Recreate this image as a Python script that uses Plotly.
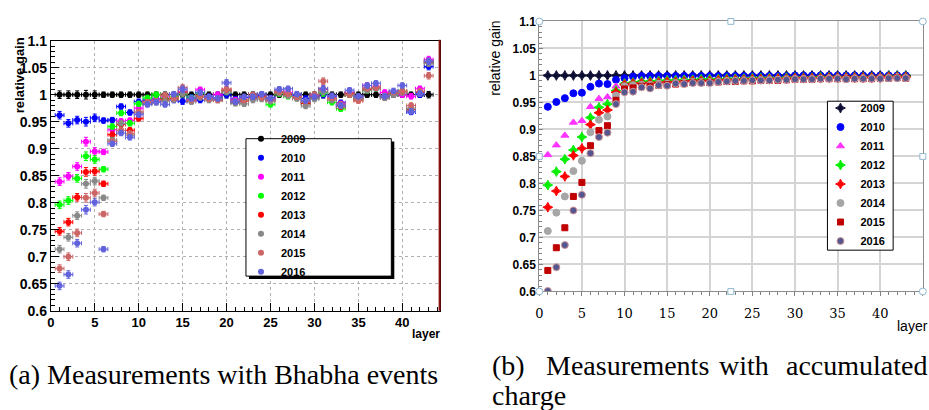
import plotly.graph_objects as go

# ---------------- data ----------------
years = ["2009", "2010", "2011", "2012", "2013", "2014", "2015", "2016"]
layers = list(range(1, 44))

# relative gain from Bhabha events (per layer 1..43)
bhabha_2009 = [1.000, 1.000, 1.000, 1.000, 1.000, 1.000, 1.000, 1.000, 1.000, 1.000,
               1.000, 1.000, 1.000, 1.000, 1.000, 1.000, 1.000, 1.000, 1.000, 1.000,
               1.000, 1.000, 1.000, 1.000, 1.000, 1.000, 1.000, 1.000, 1.000, 1.000,
               1.000, 1.000, 1.000, 1.000, 1.000, 1.000, 1.000, 1.000, 1.000, 1.000,
               1.000, 1.000, 1.000]
bhabha_2010 = [0.962, 0.947, 0.953, 0.950, 0.957, 0.952, 0.953, 0.978, 0.967, 0.987,
               0.990, 0.992, 0.993, 0.990, 0.988, 0.995, 0.990, 0.996, 0.994, 1.000,
               0.992, 0.995, 0.996, 0.998, 0.994, 1.004, 1.000, 0.998, 0.993, 0.998,
               1.000, 0.996, 0.985, 1.002, 0.995, 1.010, 1.012, 0.998, 1.002, 1.004,
               0.968, 1.000, 1.052]
bhabha_2011 = [0.839, 0.849, 0.867, 0.913, 0.895, 0.894, 0.935, 0.951, 0.952, 0.975,
               0.985, 0.990, 0.996, 0.992, 1.005, 0.990, 1.009, 0.995, 1.000, 1.008,
               0.990, 0.992, 0.998, 0.996, 0.990, 1.006, 1.004, 0.996, 0.986, 0.998,
               1.004, 0.995, 0.983, 1.002, 0.994, 1.017, 1.014, 1.004, 1.002, 1.000,
               0.997, 1.011, 1.065]
bhabha_2012 = [0.796, 0.804, 0.845, 0.886, 0.880, 0.862, 0.941, 0.966, 0.947, 0.983,
               0.994, 1.000, 0.992, 0.996, 1.002, 0.994, 1.002, 0.993, 0.992, 1.006,
               0.986, 0.990, 0.994, 0.995, 0.982, 1.002, 0.997, 0.994, 0.985, 0.994,
               1.003, 0.986, 0.974, 1.000, 0.992, 1.008, 1.012, 0.996, 1.002, 1.006,
               0.972, 1.004, 1.060]
bhabha_2013 = [0.747, 0.764, 0.810, 0.857, 0.858, 0.835, 0.926, 0.945, 0.934, 0.956,
               0.985, 0.987, 0.990, 0.993, 1.004, 0.990, 0.996, 0.992, 0.991, 1.008,
               0.986, 0.988, 0.994, 0.996, 0.990, 1.004, 1.000, 0.994, 0.984, 0.995,
               1.010, 0.992, 0.978, 1.002, 0.990, 1.010, 1.013, 0.995, 1.003, 1.006,
               0.972, 1.004, 1.060]
bhabha_2014 = [0.714, 0.736, 0.776, 0.835, 0.840, 0.809, 0.916, 0.947, 0.925, 0.966,
               0.984, 0.986, 0.988, 0.991, 1.002, 0.987, 0.995, 0.990, 0.990, 1.006,
               0.984, 0.983, 0.990, 0.992, 0.988, 1.003, 0.998, 0.993, 0.979, 0.992,
               1.006, 0.990, 0.979, 1.000, 0.992, 1.008, 1.012, 0.994, 1.000, 1.004,
               0.975, 1.002, 1.058]
bhabha_2015 = [0.678, 0.700, 0.744, 0.809, 0.818, 0.779, 0.913, 0.934, 0.928, 0.968,
               0.986, 0.988, 0.999, 0.994, 1.013, 0.990, 0.998, 0.993, 0.990, 1.010,
               0.988, 0.990, 0.999, 0.995, 0.992, 1.006, 1.002, 0.996, 0.988, 1.000,
               1.025, 0.994, 0.982, 1.000, 0.989, 1.012, 1.013, 0.998, 1.005, 1.006,
               0.980, 1.006, 1.035]
bhabha_2016 = [0.646, 0.667, 0.725, 0.787, 0.801, 0.714, 0.909, 0.929, 0.921, 0.963,
               0.982, 0.986, 0.982, 1.001, 1.010, 0.993, 1.004, 0.996, 0.993, 1.022,
               0.987, 0.996, 0.996, 1.001, 0.993, 1.010, 1.011, 1.001, 0.989, 0.996,
               1.011, 0.998, 0.980, 1.008, 0.997, 1.017, 1.021, 0.997, 1.007, 1.017,
               0.969, 1.002, 1.062]
# statistical uncertainty per layer (shared by all years)
bhabha_err = [0.007, 0.007, 0.007, 0.008, 0.007, 0.005, 0.005, 0.005, 0.005, 0.005,
              0.005, 0.005, 0.005, 0.005, 0.006, 0.005, 0.005, 0.005, 0.005, 0.006,
              0.005, 0.005, 0.005, 0.005, 0.005, 0.005, 0.005, 0.005, 0.005, 0.005,
              0.006, 0.005, 0.005, 0.005, 0.005, 0.005, 0.005, 0.005, 0.005, 0.005,
              0.005, 0.005, 0.006]
layer_halfwidth = 0.5

# relative gain from accumulated charge (per layer 1..43)
charge_2009 = [1.000, 1.000, 1.000, 1.000, 1.000, 1.000, 1.000, 1.000, 1.000, 1.000,
               1.000, 1.000, 1.000, 1.000, 1.000, 1.000, 1.000, 1.000, 1.000, 1.000,
               1.000, 1.000, 1.000, 1.000, 1.000, 1.000, 1.000, 1.000, 1.000, 1.000,
               1.000, 1.000, 1.000, 1.000, 1.000, 1.000, 1.000, 1.000, 1.000, 1.000,
               1.000, 1.000, 1.000]
charge_2010 = [0.942, 0.951, 0.958, 0.967, 0.968, 0.979, 0.985, 0.984, 0.992, 0.995,
               0.998, 0.999, 0.999, 0.999, 0.999, 0.999, 0.999, 0.999, 0.999, 0.999,
               0.999, 0.999, 0.999, 0.999, 0.999, 0.999, 0.999, 0.999, 0.999, 1.000,
               1.000, 1.000, 1.000, 1.000, 1.000, 1.000, 1.000, 1.000, 1.000, 1.000,
               1.000, 1.000, 1.000]
charge_2011 = [0.853, 0.871, 0.889, 0.913, 0.916, 0.942, 0.957, 0.960, 0.980, 0.987,
               0.989, 0.991, 0.991, 0.992, 0.993, 0.993, 0.994, 0.994, 0.994, 0.995,
               0.995, 0.995, 0.996, 0.996, 0.996, 0.996, 0.997, 0.997, 0.997, 0.997,
               0.997, 0.997, 0.998, 0.998, 0.998, 0.998, 0.998, 0.998, 0.998, 0.998,
               0.998, 0.998, 0.998]
charge_2012 = [0.797, 0.822, 0.845, 0.862, 0.886, 0.922, 0.941, 0.947, 0.972, 0.985,
               0.987, 0.989, 0.989, 0.990, 0.991, 0.991, 0.992, 0.992, 0.993, 0.993,
               0.993, 0.994, 0.994, 0.994, 0.995, 0.995, 0.995, 0.995, 0.996, 0.996,
               0.996, 0.996, 0.997, 0.997, 0.997, 0.997, 0.997, 0.997, 0.997, 0.997,
               0.998, 0.998, 0.998]
charge_2013 = [0.756, 0.786, 0.813, 0.852, 0.865, 0.909, 0.931, 0.936, 0.969, 0.983,
               0.985, 0.986, 0.986, 0.987, 0.988, 0.988, 0.989, 0.990, 0.990, 0.990,
               0.991, 0.992, 0.992, 0.992, 0.993, 0.993, 0.993, 0.994, 0.994, 0.995,
               0.995, 0.995, 0.995, 0.996, 0.996, 0.996, 0.996, 0.996, 0.996, 0.996,
               0.997, 0.997, 0.997]
charge_2014 = [0.712, 0.746, 0.776, 0.823, 0.842, 0.895, 0.918, 0.924, 0.963, 0.980,
               0.982, 0.983, 0.983, 0.985, 0.985, 0.986, 0.987, 0.988, 0.988, 0.988,
               0.989, 0.990, 0.990, 0.991, 0.991, 0.992, 0.992, 0.992, 0.993, 0.994,
               0.994, 0.994, 0.994, 0.995, 0.995, 0.995, 0.995, 0.995, 0.995, 0.996,
               0.996, 0.997, 0.996]
charge_2015 = [0.639, 0.681, 0.718, 0.776, 0.802, 0.870, 0.898, 0.907, 0.954, 0.975,
               0.977, 0.980, 0.980, 0.982, 0.983, 0.984, 0.985, 0.987, 0.987, 0.987,
               0.988, 0.989, 0.989, 0.990, 0.990, 0.991, 0.991, 0.991, 0.992, 0.993,
               0.993, 0.993, 0.994, 0.994, 0.994, 0.994, 0.994, 0.994, 0.994, 0.995,
               0.995, 0.996, 0.995]
charge_2016 = [0.601, 0.645, 0.686, 0.750, 0.779, 0.856, 0.886, 0.894, 0.947, 0.969,
               0.970, 0.978, 0.976, 0.982, 0.981, 0.985, 0.984, 0.986, 0.986, 0.986,
               0.988, 0.989, 0.990, 0.990, 0.991, 0.991, 0.991, 0.992, 0.992, 0.993,
               0.993, 0.993, 0.994, 0.994, 0.994, 0.993, 0.994, 0.994, 0.994, 0.994,
               0.995, 0.995, 0.995]

bhabha_series = [bhabha_2009, bhabha_2010, bhabha_2011, bhabha_2012,
                 bhabha_2013, bhabha_2014, bhabha_2015, bhabha_2016]
charge_series = [charge_2009, charge_2010, charge_2011, charge_2012,
                 charge_2013, charge_2014, charge_2015, charge_2016]

y_ticks = [0.6, 0.65, 0.7, 0.75, 0.8, 0.85, 0.9, 0.95, 1.0, 1.05, 1.1]
y_tick_text = ["0.6", "0.65", "0.7", "0.75", "0.8", "0.85", "0.9", "0.95", "1", "1.05", "1.1"]
x_ticks_left = [0, 5, 10, 15, 20, 25, 30, 35, 40]
x_ticks_right = [0, 5, 10, 15, 20, 25, 30, 35, 40, 45]

# ---------------- styles ----------------
bhabha_colors = ["#000000", "#0000ff", "#ff00ff", "#00ff00",
                 "#ff0000", "#888888", "#cc6666", "#6262dc"]
charge_colors = ["#0d0d33", "#0000ff", "#ff33ff", "#00ee00",
                 "#ff0000", "#a6a6a6", "#c00000", "#55558f"]
charge_symbols = ["star-diamond", "circle", "triangle-up", "star-diamond",
                  "star-diamond", "circle", "square", "circle"]
charge_sizes = [7, 7, 7, 7, 7, 7, 6, 7]
charge_outline = ["#0d0d33", "#0000ff", "#ff33ff", "#00ee00",
                  "#ff0000", "#a6a6a6", "#c00000", "#d09898"]

W, H = 929, 410


def fx(p):
    return p / W


def fy(p):
    return 1 - p / H


fig = go.Figure()

for name, vals, col in zip(years, bhabha_series, bhabha_colors):
    fig.add_trace(go.Scatter(
        x=layers, y=vals, mode="markers", name=name,
        xaxis="x", yaxis="y", legend="legend",
        marker=dict(color=col, size=6, symbol="circle", line=dict(width=0)),
        error_y=dict(type="data", array=bhabha_err, color=col, thickness=1, width=2),
        error_x=dict(type="constant", value=layer_halfwidth, color=col, thickness=1, width=2),
    ))

for name, vals, col, sym, sz, oc in zip(years, charge_series, charge_colors,
                                         charge_symbols, charge_sizes, charge_outline):
    fig.add_trace(go.Scatter(
        x=layers, y=vals, mode="markers", name=name,
        xaxis="x2", yaxis="y2", legend="legend2",
        marker=dict(color=col, size=sz, symbol=sym, line=dict(width=1, color=oc)),
    ))

tick_font_l = dict(family="Liberation Sans", size=13, color="black", weight="bold")
tick_font_ly = dict(family="Liberation Sans", size=14, color="black", weight="bold")

fig.update_layout(
    width=W, height=H,
    margin=dict(l=0, r=0, t=0, b=0),
    paper_bgcolor="white", plot_bgcolor="white",
    showlegend=True,
    xaxis=dict(
        domain=[fx(47), fx(438)], range=[0, 44.3], anchor="y",
        tickmode="array", tickvals=x_ticks_left, ticks="inside", ticklen=8,
        tickcolor="black", tickfont=tick_font_l,
        minor=dict(dtick=1, ticks="inside", ticklen=4, tickcolor="black", showgrid=False),
        showgrid=True, gridcolor="#b0b0b0", griddash="dot", gridwidth=1,
        showline=True, linecolor="black", linewidth=1, mirror=True,
        zeroline=False,
    ),
    yaxis=dict(
        domain=[fy(315), fy(34)], range=[0.6, 1.1], anchor="x",
        tickmode="array", tickvals=y_ticks, ticktext=y_tick_text,
        ticks="inside", ticklen=8, tickcolor="black", tickfont=tick_font_ly,
        minor=dict(dtick=0.01, tick0=0.6, ticks="inside", ticklen=4, tickcolor="black", showgrid=False),
        showgrid=True, gridcolor="#b0b0b0", griddash="dot", gridwidth=1,
        showline=True, linecolor="black", linewidth=1, mirror=True,
        zeroline=False,
    ),
    xaxis2=dict(
        domain=[fx(537.6), fx(922.8)], range=[0, 45], anchor="y2",
        tickmode="array", tickvals=x_ticks_right, ticks="outside", ticklen=4,
        tickcolor="#808080", ticklabelstandoff=6,
        tickfont=dict(family="DejaVu Serif", size=13, color="black"),
        minor=dict(dtick=1, ticks="outside", ticklen=3, tickcolor="#808080", showgrid=False),
        showgrid=True, gridcolor="#d4d4d4", gridwidth=2,
        showline=True, linecolor="#8c8c8c", linewidth=1, mirror=True,
        zeroline=False,
    ),
    yaxis2=dict(
        domain=[fy(295), fy(14)], range=[0.6, 1.1], anchor="x2",
        tickmode="array", tickvals=y_ticks, ticktext=y_tick_text,
        ticks="inside", ticklen=4, tickcolor="#808080",
        tickfont=dict(family="Liberation Sans", size=12, color="black", weight="bold"),
        minor=dict(dtick=0.01, tick0=0.6, ticks="inside", ticklen=3, tickcolor="#808080", showgrid=False),
        showgrid=True, gridcolor="#d4d4d4", gridwidth=2,
        showline=True, linecolor="#8c8c8c", linewidth=1, mirror=True,
        zeroline=False,
    ),
    legend=dict(
        x=fx(238), y=fy(121), xanchor="left", yanchor="top",
        bgcolor="rgba(0,0,0,0)", borderwidth=0,
        font=dict(family="Liberation Sans", size=11, color="black", weight="bold"),
        itemwidth=30,
    ),
    legend2=dict(
        x=fx(820), y=fy(89), xanchor="left", yanchor="top",
        bgcolor="rgba(0,0,0,0)", borderwidth=0,
        font=dict(family="Liberation Sans", size=11, color="black", weight="bold"),
        itemwidth=30,
    ),
)

# legend frames (left one with a drop shadow)
shapes = [
    dict(type="rect", xref="paper", yref="paper", x0=fx(246), x1=fx(392), y0=fy(282), y1=fy(139),
         fillcolor="black", line=dict(width=0), layer="above"),
    dict(type="rect", xref="paper", yref="paper", x0=fx(243), x1=fx(389), y0=fy(279), y1=fy(136),
         fillcolor="white", line=dict(color="black", width=1), layer="above"),
    dict(type="rect", xref="paper", yref="paper", x0=fx(827), x1=fx(893), y0=fy(252), y1=fy(97),
         fillcolor="white", line=dict(color="black", width=1), layer="above"),
    dict(type="line", xref="paper", yref="paper", x0=fx(437.5), x1=fx(437.5), y0=fy(315), y1=fy(33),
         line=dict(color="#8b1010", width=2), layer="above"),
]
# selection handles on the right chart frame
for hx, hy, kind in [(537.6, 14, "circle"), (922.8, 14, "circle"), (537.6, 295, "circle"),
                     (922.8, 295, "circle"), (730, 14, "rect"), (730, 295, "rect"),
                     (537.6, 154.5, "rect"), (922.8, 154.5, "rect")]:
    r = 3.5 if kind == "circle" else 3
    shapes.append(dict(type=kind, xref="paper", yref="paper",
                       x0=fx(hx - r), x1=fx(hx + r), y0=fy(hy + r), y1=fy(hy - r),
                       fillcolor="white", line=dict(color="#8fb8cc", width=1), layer="above"))
fig.update_layout(shapes=shapes)

cap_font = dict(family="Liberation Serif", size=28, color="black")
annotations = [
    dict(text="relative gain", x=fx(15), y=fy(70), textangle=-90, xanchor="center", yanchor="middle",
         font=dict(family="Liberation Sans", size=13, color="black", weight="bold")),
    dict(text="layer", x=fx(424), y=fy(339), xanchor="center", yanchor="middle",
         font=dict(family="Liberation Sans", size=12, color="black", weight="bold")),
    dict(text="relative gain", x=fx(493), y=fy(52), textangle=-90, xanchor="center", yanchor="middle",
         font=dict(family="Liberation Sans", size=14, color="black")),
    dict(text="layer", x=fx(895), y=fy(331), xanchor="left", yanchor="middle",
         font=dict(family="Liberation Sans", size=14, color="black")),
    dict(text="(a) Measurements with Bhabha events", x=fx(3), y=fy(381), xanchor="left",
         yanchor="middle", font=cap_font),
    dict(text="(b)", x=fx(488), y=fy(372), xanchor="left", yanchor="middle", font=cap_font),
    dict(text="Measurements", x=fx(542), y=fy(372), xanchor="left", yanchor="middle", font=cap_font),
    dict(text="with", x=fx(716), y=fy(372), xanchor="left", yanchor="middle", font=cap_font),
    dict(text="accumulated", x=fx(783), y=fy(372), xanchor="left", yanchor="middle", font=cap_font),
    dict(text="charge", x=fx(488), y=fy(403), xanchor="left", yanchor="middle", font=cap_font),
]
for a in annotations:
    a["xref"] = "paper"
    a["yref"] = "paper"
    a["showarrow"] = False
fig.update_layout(annotations=annotations)

fig.write_html("out.html")
